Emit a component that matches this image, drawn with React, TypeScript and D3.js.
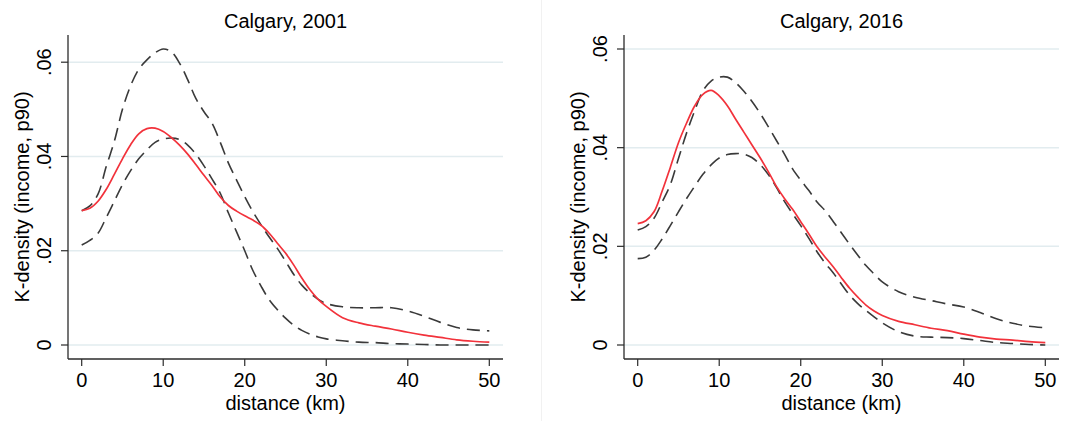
import React from "react";
import * as d3 from "d3";

// distance (km) grid at which the curves were read
const distance = [
  0, 1, 2, 3, 4, 5, 6, 7, 8, 9, 10, 11, 12, 13, 14, 15, 16, 17, 18, 19, 20,
  21, 22, 23, 24, 25, 26, 27, 28, 29, 30, 32, 34, 36, 38, 40, 42, 44, 46, 48, 50,
];

// Calgary 2001
const red2001 = [
  0.0285, 0.029, 0.0305, 0.033, 0.0362, 0.0395, 0.0425, 0.0448, 0.0459, 0.046,
  0.0453, 0.044, 0.0424, 0.0405, 0.0383, 0.036, 0.0338, 0.0314, 0.0296, 0.0284,
  0.0274, 0.0265, 0.0254, 0.0237, 0.0216, 0.0195, 0.017, 0.0142, 0.0117, 0.0097,
  0.0082, 0.0058, 0.0047, 0.004, 0.0034, 0.0027, 0.0021, 0.0016, 0.0011, 0.0008,
  0.0006,
];
const upper2001 = [
  0.0285, 0.0295, 0.032, 0.0378, 0.0432, 0.05, 0.055, 0.0585, 0.0605, 0.062,
  0.0628, 0.0622, 0.0598, 0.0563, 0.0523, 0.0495, 0.047, 0.043, 0.0386, 0.035,
  0.0315, 0.0283, 0.0255, 0.0229, 0.0205, 0.0178, 0.015, 0.0127, 0.011, 0.0097,
  0.0088, 0.0081, 0.0079, 0.0079, 0.0079, 0.0072, 0.0061, 0.0048, 0.0037,
  0.0032, 0.003,
];
const lower2001 = [
  0.0212, 0.0222, 0.0237, 0.027, 0.0305, 0.034, 0.037, 0.0395, 0.0414, 0.043,
  0.0437, 0.0439, 0.0436, 0.0424, 0.0405, 0.038, 0.0352, 0.0322, 0.028, 0.024,
  0.02, 0.0158, 0.0125, 0.0096, 0.0075, 0.0057, 0.0042, 0.0031, 0.0023, 0.0017,
  0.0013, 0.0009, 0.0006, 0.0005, 0.0003, 0.0002, 0.0001, 0.0, 0.0, 0.0, 0.0,
];

// Calgary 2016
const red2016 = [
  0.0246, 0.0252, 0.027, 0.0312, 0.036, 0.041, 0.045, 0.0485, 0.0508, 0.0516,
  0.0505, 0.0485, 0.0458, 0.0432, 0.0406, 0.038, 0.0352, 0.0322, 0.0297, 0.0275,
  0.025, 0.0225, 0.0199, 0.0178, 0.0158, 0.0136, 0.0115, 0.0097, 0.0081, 0.0069,
  0.006, 0.0048, 0.0041, 0.0034, 0.0029, 0.0022, 0.0016, 0.0012, 0.001, 0.0007,
  0.0005,
];
const upper2016 = [
  0.0233, 0.024, 0.0257, 0.029, 0.0325, 0.0378, 0.043, 0.0475, 0.0515, 0.0535,
  0.0543, 0.0543, 0.0532, 0.0515, 0.0494, 0.047, 0.0443, 0.0415, 0.0387, 0.0357,
  0.0334, 0.0313, 0.029, 0.0272, 0.025, 0.0227, 0.0204, 0.0182, 0.0161, 0.0144,
  0.0128, 0.0108, 0.0097, 0.009, 0.0083, 0.0077, 0.0066, 0.0053, 0.0044, 0.0038,
  0.0035,
];
const lower2016 = [
  0.0175, 0.0178, 0.0192, 0.0215, 0.0242, 0.027, 0.0297, 0.0322, 0.0346, 0.0365,
  0.0379, 0.0386, 0.0388, 0.0387, 0.038, 0.0366, 0.0346, 0.032, 0.0291, 0.0266,
  0.0242, 0.0216, 0.0189, 0.0166, 0.0146, 0.0123, 0.0101, 0.0084, 0.007, 0.0057,
  0.0045, 0.0027, 0.0018, 0.0016, 0.0015, 0.0013, 0.0009, 0.0005, 0.0003, 0.0001,
  0.0,
];

const xTicks = [0, 10, 20, 30, 40, 50];
const yTicks = [0, 0.02, 0.04, 0.06];
const yTickLabels = ["0", ".02", ".04", ".06"];

const titles = ["Calgary, 2001", "Calgary, 2016"];
const xTitle = "distance (km)";
const yTitle = "K-density (income, p90)";

const FONT = "'Liberation Sans', Arial, Helvetica, sans-serif";
const RED = "#f2323b";
const DASH = "#3a3a3a";
const GRID = "#e2ecef";
const AXIS = "#2b2b2b";

type PanelProps = {
  ox: number;
  title: string;
  red: number[];
  upper: number[];
  lower: number[];
};

function Panel({ ox, title, red, upper, lower }: PanelProps) {
  const L = ox + 68;
  const R = ox + 503;
  const T = 35;
  const B = 359;
  const pad = 14;
  const x = d3.scaleLinear().domain([0, 50]).range([L + 13.7, R - 13.7]);
  const ymax = Math.max(
    d3.max([...red, ...upper, ...lower]) as number,
    d3.max(yTicks) as number
  );
  const y = d3.scaleLinear().domain([0, ymax]).range([B - pad, T + pad]);
  const mk = (vals: number[]) =>
    d3
      .line<number>()
      .x((_, i) => x(distance[i]))
      .y((v) => y(v))
      .curve(d3.curveCatmullRom.alpha(0.5))(vals) || "";
  const cx = (L + R) / 2;
  return (
    <g fontFamily={FONT} fill="#000">
      {yTicks.map((t) => (
        <line key={"g" + t} x1={L} x2={R} y1={y(t)} y2={y(t)} stroke={GRID} strokeWidth={1.5} />
      ))}
      <path d={mk(lower)} fill="none" stroke={DASH} strokeWidth={1.6} strokeDasharray="13,7" />
      <path d={mk(upper)} fill="none" stroke={DASH} strokeWidth={1.6} strokeDasharray="13,7" />
      <path d={mk(red)} fill="none" stroke={RED} strokeWidth={1.7} />
      <line x1={L} x2={L} y1={T} y2={B} stroke={AXIS} strokeWidth={1.3} />
      <line x1={L} x2={R} y1={B} y2={B} stroke={AXIS} strokeWidth={1.3} />
      {xTicks.map((t) => (
        <g key={"x" + t}>
          <line x1={x(t)} x2={x(t)} y1={B} y2={B + 7} stroke={AXIS} strokeWidth={1.2} />
          <text x={x(t)} y={387} textAnchor="middle" fontSize={20}>
            {t}
          </text>
        </g>
      ))}
      {yTicks.map((t, i) => (
        <g key={"y" + t}>
          <line x1={L - 7} x2={L} y1={y(t)} y2={y(t)} stroke={AXIS} strokeWidth={1.2} />
          <text
            transform={`translate(${ox + 50.5},${y(t)}) rotate(-90)`}
            textAnchor="middle"
            fontSize={20}
          >
            {yTickLabels[i]}
          </text>
        </g>
      ))}
      <text x={cx} y={28} textAnchor="middle" fontSize={20}>
        {title}
      </text>
      <text x={cx} y={410} textAnchor="middle" fontSize={20}>
        {xTitle}
      </text>
      <text
        transform={`translate(${ox + 28.5},${(T + B) / 2}) rotate(-90)`}
        textAnchor="middle"
        fontSize={20}
      >
        {yTitle}
      </text>
    </g>
  );
}

export default function App() {
  return (
    <svg
      width={1077}
      height={421}
      style={{ position: "absolute", left: 0, top: 0, background: "#fff" }}
    >
      <rect x={0} y={0} width={1077} height={421} fill="#fff" />
      <line x1={541.5} x2={541.5} y1={0} y2={421} stroke="#f1f1f1" strokeWidth={1} />
      <Panel ox={0} title={titles[0]} red={red2001} upper={upper2001} lower={lower2001} />
      <Panel ox={556} title={titles[1]} red={red2016} upper={upper2016} lower={lower2016} />
    </svg>
  );
}
